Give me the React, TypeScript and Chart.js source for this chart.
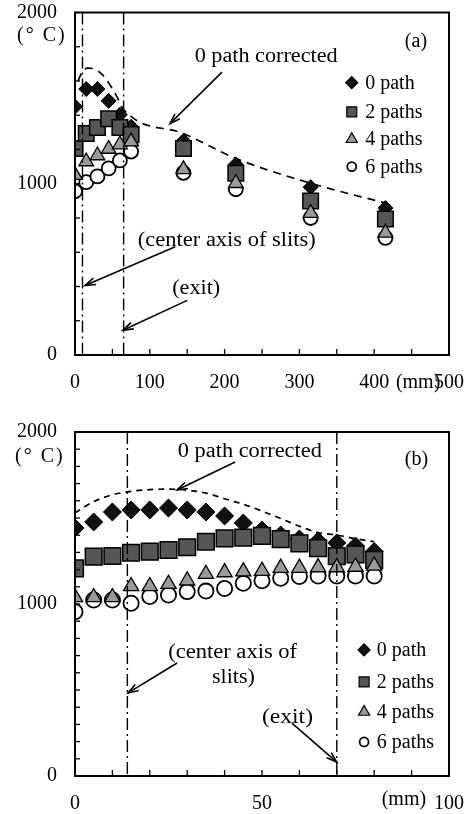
import React, { useEffect, useRef } from 'react';
import { Chart, registerables } from 'chart.js';

Chart.register(...registerables);

const FONT = '"Liberation Serif", "Times New Roman", serif';

// ---------------- Panel (a) data ----------------
const positionsA = [0, 15, 30, 45, 60, 75, 145, 215, 315, 415];
const path0A = [1450, 1553, 1553, 1484, 1403, 1333, 1250, 1113, 980, 858];
const path2A = [1206, 1293, 1328, 1380, 1328, 1287, 1206, 1061, 899, 794];
const path4A = [1050, 1130, 1165, 1203, 1229, 1246, 1084, 1003, 829, 713];
const path6A = [956, 1009, 1043, 1090, 1136, 1188, 1064, 968, 800, 684];
const correctedXA = [4, 10, 17, 26, 33, 40, 50, 57, 64, 145, 215, 315, 415];
const correctedYA = [1600, 1655, 1675, 1670, 1650, 1620, 1554, 1500, 1438, 1293, 1148, 1003, 887];
const xLabelsA = [0, 100, 200, 300, 400, 500];
const markerLinesA = [10, 65];

// ---------------- Panel (b) data ----------------
const positionsB = [0, 5, 10, 15, 20, 25, 30, 35, 40, 45, 50, 55, 60, 65, 70, 75, 80];
const path0B = [1442, 1477, 1535, 1547, 1547, 1558, 1547, 1535, 1512, 1471, 1430, 1401, 1378, 1366, 1355, 1337, 1305];
const path2B = [1207, 1275, 1279, 1298, 1304, 1314, 1330, 1362, 1382, 1386, 1396, 1377, 1353, 1325, 1278, 1288, 1256];
const path4B = [1039, 1039, 1039, 1103, 1103, 1116, 1136, 1174, 1184, 1189, 1192, 1210, 1210, 1213, 1213, 1216, 1222];
const path6B = [955, 1023, 1023, 1004, 1043, 1052, 1072, 1075, 1090, 1120, 1135, 1150, 1160, 1163, 1163, 1163, 1163];
const correctedXB = positionsB;
const correctedYB = [1530, 1595, 1635, 1655, 1665, 1668, 1662, 1645, 1612, 1580, 1540, 1497, 1452, 1415, 1401, 1380, 1362];
const xLabelsB = [0, 50, 100];
const markerLinesB = [14, 70];

const yLabels = [0, 1000, 2000];
const seriesNames = ['0 path', '2 paths', '4 paths', '6 paths'];

type Note = { text: string; x: number; y: number; w: number };
type Arrow = [number, number, number, number];

interface PanelCfg {
  xs: number[];
  p0: number[]; p2: number[]; p4: number[]; p6: number[];
  cx: number[]; cy: number[];
  xMax: number; xStep: number; yStep: number; xLabels: number[];
  vlines: number[];
  padTop: number; xAxisH: number;
  dash: number[];
  r: { d: number; s: number; t: number; c: number };
  notes: Note[];
  arrows: Arrow[];
  tag: { text: string; x: number; y: number };
  unitC: { dx: number; dy: number };
  unitMM: { x: number; dy: number };
  legend: { mx: number; tx: number; ys: number[] };
}

const panelA: PanelCfg = {
  xs: positionsA, p0: path0A, p2: path2A, p4: path4A, p6: path6A,
  cx: correctedXA, cy: correctedYA,
  xMax: 500, xStep: 50, yStep: 200, xLabels: xLabelsA,
  vlines: markerLinesA,
  padTop: 10, xAxisH: 45,
  dash: [8, 6],
  r: { d: 7.5, s: 11, t: 8.5, c: 7 },
  notes: [
    { text: '0 path corrected', x: 160, y: 1739, w: 143 },
    { text: '(center axis of slits)', x: 84, y: 667, w: 178 },
    { text: '(exit)', x: 130, y: 388, w: 48 },
  ],
  arrows: [
    [196.5, 1652, 127, 1351],
    [134, 632, 13.4, 406],
    [150, 319, 64, 145],
  ],
  tag: { text: '(a)', x: 441, y: 1832 },
  unitC: { dx: -58, dy: 23 },
  unitMM: { x: 429, dy: 28 },
  legend: { mx: 370, tx: 388, ys: [1590, 1420, 1260, 1100] },
};

const panelB: PanelCfg = {
  xs: positionsB, p0: path0B, p2: path2B, p4: path4B, p6: path6B,
  cx: correctedXB, cy: correctedYB,
  xMax: 100, xStep: 10, yStep: 100, xLabels: xLabelsB,
  vlines: markerLinesB,
  padTop: 32, xAxisH: 38,
  dash: [6, 5],
  r: { d: 9, s: 11.8, t: 8.8, c: 7.6 },
  notes: [
    { text: '0 path corrected', x: 27.5, y: 1884, w: 144 },
    { text: '(center axis of', x: 24.9, y: 715, w: 129 },
    { text: 'slits)', x: 36.6, y: 570, w: 43 },
    { text: '(exit)', x: 50, y: 337, w: 51 },
  ],
  arrows: [
    [42.8, 1826, 27.3, 1663],
    [27.3, 657, 14.2, 483],
    [58, 308, 70, 81],
  ],
  tag: { text: '(b)', x: 88.2, y: 1837 },
  unitC: { dx: -60, dy: 25 },
  unitMM: { x: 82, dy: 24 },
  legend: { mx: 77.3, tx: 80.7, ys: [733, 547, 372, 198] },
};

function line(ctx: CanvasRenderingContext2D, x1: number, y1: number, x2: number, y2: number) {
  ctx.beginPath();
  ctx.moveTo(x1, y1);
  ctx.lineTo(x2, y2);
  ctx.stroke();
}

function drawText(ctx: CanvasRenderingContext2D, text: string, x: number, y: number, w?: number) {
  const m = ctx.measureText(text).width;
  const s = w ? w / m : 1;
  ctx.save();
  ctx.translate(x, y);
  ctx.scale(s, 1);
  ctx.textAlign = 'left';
  ctx.textBaseline = 'middle';
  ctx.fillText(text, 0, 0);
  ctx.restore();
}

function drawArrow(ctx: CanvasRenderingContext2D, x1: number, y1: number, x2: number, y2: number) {
  ctx.lineWidth = 1.6;
  line(ctx, x1, y1, x2, y2);
  const ang = Math.atan2(y2 - y1, x2 - x1);
  const len = 11;
  const spread = 0.32;
  ctx.beginPath();
  ctx.moveTo(x2 - len * Math.cos(ang - spread), y2 - len * Math.sin(ang - spread));
  ctx.lineTo(x2, y2);
  ctx.lineTo(x2 - len * Math.cos(ang + spread), y2 - len * Math.sin(ang + spread));
  ctx.stroke();
}

function legendMarker(ctx: CanvasRenderingContext2D, kind: number, x: number, y: number) {
  ctx.save();
  ctx.lineWidth = 1.2;
  ctx.strokeStyle = '#000';
  ctx.beginPath();
  if (kind === 0) {
    const r = 6;
    ctx.moveTo(x - r, y); ctx.lineTo(x, y - r); ctx.lineTo(x + r, y); ctx.lineTo(x, y + r); ctx.closePath();
    ctx.fillStyle = '#111';
  } else if (kind === 1) {
    const h = 5;
    ctx.rect(x - h, y - h, 2 * h, 2 * h);
    ctx.fillStyle = '#555';
  } else if (kind === 2) {
    const r = 6.5;
    ctx.moveTo(x, y - r); ctx.lineTo(x + r * 0.866, y + r * 0.5); ctx.lineTo(x - r * 0.866, y + r * 0.5); ctx.closePath();
    ctx.fillStyle = '#999';
  } else {
    ctx.arc(x, y, 4.5, 0, Math.PI * 2);
    ctx.fillStyle = '#fff';
    ctx.lineWidth = 1.8;
  }
  ctx.fill();
  ctx.stroke();
  ctx.restore();
}

function decor(cfg: PanelCfg) {
  return {
    id: 'decor',
    afterDatasetsDraw(chart: any) {
      const { ctx, chartArea: a, scales } = chart;
      const xs = scales.x;
      const ys = scales.y;
      ctx.save();
      ctx.strokeStyle = '#000';
      ctx.fillStyle = '#000';
      // dash-dot reference lines
      ctx.lineWidth = 1.4;
      ctx.setLineDash([12, 4, 2, 4]);
      for (const v of cfg.vlines) {
        const px = xs.getPixelForValue(v);
        line(ctx, px, a.top, px, a.bottom);
      }
      ctx.setLineDash([]);
      // frame
      ctx.lineWidth = 2;
      ctx.strokeRect(a.left, a.top, a.right - a.left, a.bottom - a.top);
      // inward ticks
      ctx.lineWidth = 1.3;
      for (const t of ys.ticks) {
        const py = ys.getPixelForValue(t.value);
        line(ctx, a.left, py, a.left + 5, py);
      }
      for (const t of xs.ticks) {
        const px = xs.getPixelForValue(t.value);
        line(ctx, px, a.bottom, px, a.bottom - 6);
      }
      // text
      ctx.font = `20px ${FONT}`;
      for (const n of cfg.notes) {
        drawText(ctx, n.text, xs.getPixelForValue(n.x), ys.getPixelForValue(n.y), n.w);
      }
      drawText(ctx, cfg.tag.text, xs.getPixelForValue(cfg.tag.x), ys.getPixelForValue(cfg.tag.y));
      // units
      ctx.save();
      (ctx as any).letterSpacing = '2px';
      drawText(ctx, '(° C)', a.left + cfg.unitC.dx, a.top + cfg.unitC.dy);
      ctx.restore();
      drawText(ctx, '(mm)', xs.getPixelForValue(cfg.unitMM.x), a.bottom + cfg.unitMM.dy);
      // arrows
      for (const ar of cfg.arrows) {
        drawArrow(ctx, xs.getPixelForValue(ar[0]), ys.getPixelForValue(ar[1]), xs.getPixelForValue(ar[2]), ys.getPixelForValue(ar[3]));
      }
      // legend
      const mx = xs.getPixelForValue(cfg.legend.mx);
      const tx = xs.getPixelForValue(cfg.legend.tx);
      cfg.legend.ys.forEach((yv, i) => {
        const py = ys.getPixelForValue(yv);
        legendMarker(ctx, i, mx, py);
        ctx.fillStyle = '#000';
        drawText(ctx, seriesNames[i], tx, py + 1);
      });
      ctx.restore();
    },
  };
}

function pts(xs: number[], ys: number[]) {
  return xs.map((x, i) => ({ x, y: ys[i] }));
}

function buildConfig(cfg: PanelCfg): any {
  const tickFont = { family: FONT, size: 20 };
  return {
    type: 'line',
    data: {
      datasets: [
        {
          label: '0 path corrected', data: pts(cfg.cx, cfg.cy), borderColor: '#000', borderWidth: 1.7,
          borderDash: cfg.dash, pointRadius: 0, fill: false, tension: 0.4, cubicInterpolationMode: 'monotone', order: 5,
        },
        {
          label: seriesNames[0], data: pts(cfg.xs, cfg.p0), showLine: false, pointStyle: 'rectRot', pointRadius: cfg.r.d,
          pointBackgroundColor: '#111', pointBorderColor: '#000', pointBorderWidth: 1, order: 4,
        },
        {
          label: seriesNames[1], data: pts(cfg.xs, cfg.p2), showLine: false, pointStyle: 'rect', pointRadius: cfg.r.s,
          pointBackgroundColor: '#565656', pointBorderColor: '#000', pointBorderWidth: 1.5, order: 3,
        },
        {
          label: seriesNames[3], data: pts(cfg.xs, cfg.p6), showLine: false, pointStyle: 'circle', pointRadius: cfg.r.c,
          pointBackgroundColor: '#fff', pointBorderColor: '#000', pointBorderWidth: 1.8, order: 2,
        },
        {
          label: seriesNames[2], data: pts(cfg.xs, cfg.p4), showLine: false, pointStyle: 'triangle', pointRadius: cfg.r.t,
          pointBackgroundColor: '#9a9a9a', pointBorderColor: '#000', pointBorderWidth: 1.3, order: 1,
        },
      ],
    },
    options: {
      responsive: false,
      animation: false,
      events: [],
      layout: { padding: { left: 0, right: 25, top: cfg.padTop, bottom: 0 } },
      plugins: { legend: { display: false }, tooltip: { enabled: false } },
      scales: {
        x: {
          type: 'linear', min: 0, max: cfg.xMax,
          grid: { display: false, drawTicks: false },
          border: { display: false },
          ticks: {
            stepSize: cfg.xStep, autoSkip: false, maxRotation: 0, maxTicksLimit: 1000, padding: 16,
            font: tickFont, color: '#000',
            callback: (v: number) => (cfg.xLabels.includes(v) ? String(v) : ''),
          },
          afterFit: (s: any) => { s.height = cfg.xAxisH; s.paddingLeft = 0; s.paddingRight = 0; },
        },
        y: {
          type: 'linear', min: 0, max: 2000,
          grid: { display: false, drawTicks: false },
          border: { display: false },
          ticks: {
            stepSize: cfg.yStep, autoSkip: false, maxTicksLimit: 1000, padding: 18,
            font: tickFont, color: '#000',
            callback: (v: number) => (yLabels.includes(v) ? String(v) : ''),
          },
          afterFit: (s: any) => { s.width = 75; s.paddingTop = 0; s.paddingBottom = 0; },
        },
      },
    },
    plugins: [decor(cfg)],
  };
}

function Panel({ cfg, top, height }: { cfg: PanelCfg; top: number; height: number }) {
  const ref = useRef<HTMLCanvasElement>(null);
  useEffect(() => {
    const chart = new Chart(ref.current as HTMLCanvasElement, buildConfig(cfg));
    return () => chart.destroy();
  }, [cfg]);
  return (
    <canvas
      ref={ref}
      width={474}
      height={height}
      style={{ position: 'absolute', left: 0, top, width: 474, height, display: 'block' }}
    />
  );
}

export default function App() {
  return (
    <div style={{ position: 'fixed', left: 0, top: 0, width: 474, height: 814, background: '#fff', overflow: 'hidden' }}>
      <Panel cfg={panelA} top={0} height={400} />
      <Panel cfg={panelB} top={400} height={414} />
    </div>
  );
}
